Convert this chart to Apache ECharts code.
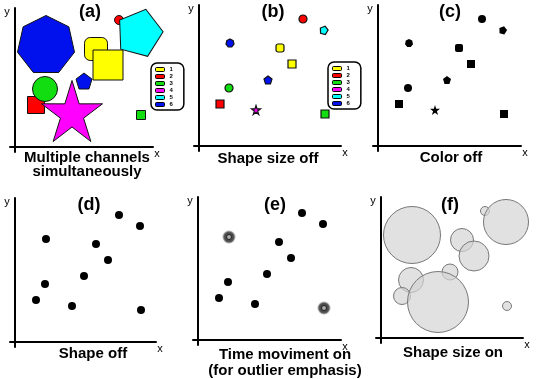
<!DOCTYPE html>
<html>
<head>
<meta charset="utf-8">
<script src="https://cdn.jsdelivr.net/npm/echarts@6/dist/echarts.min.js"></script>
<style>
html, body { margin: 0; padding: 0; background: #fff; }
#chart { width: 539px; height: 379px; }
</style>
</head>
<body>
<div id="chart"></div>
<script>
// 十个点，六个面板共用同一组坐标
const pointX = [31, 81, 93, 104, 125, 69, 30, 21, 57, 126];
const pointY = [103, 98, 82, 127, 116, 66, 58, 42, 36, 32];
// 大小通道 (a)(f)
const magnitude = [57, 23, 30, 9, 45, 16, 25, 17, 61, 9];
// 颜色分组 1-6
const group = ['6', '1', '1', '2', '5', '6', '3', '2', '4', '3'];
// 形状
const kind = ['heptagon', 'roundRect', 'rect', 'circle', 'pentagon', 'pentagon', 'circle', 'rect', 'star', 'rect'];
// (e) 里面会动的离群点
const outlier = [1, 0, 0, 0, 0, 0, 0, 0, 0, 1];
const groupNames = ['1', '2', '3', '4', '5', '6'];
const panelTags = ['(a)', '(b)', '(c)', '(d)', '(e)', '(f)'];
const captions = ['Multiple channels\nsimultaneously', 'Shape size off', 'Color off', 'Shape off', 'Time moviment on\n(for outlier emphasis)', 'Shape size on'];

const groupColor = { '1': '#ffff00', '2': '#ff0000', '3': '#11dd11', '4': '#ff00ff', '5': '#00ffff', '6': '#0011ee' };

// 每个面板的原点、右端、顶端（像素）
const panels = [
    { ox: 15, oy: 147, right: 153, top: 8, tag: [90, 12], cap: [87, 151], lh: 14 },
    { ox: 199, oy: 146, right: 341, top: 5, tag: [273, 12], cap: [268, 152], lh: 14 },
    { ox: 378, oy: 146, right: 521, top: 5, tag: [450, 12], cap: [451, 151], lh: 14 },
    { ox: 15, oy: 342, right: 156, top: 198, tag: [89, 205], cap: [93, 347], lh: 14 },
    { ox: 198, oy: 340, right: 341, top: 197, tag: [275, 205], cap: [285, 347], lh: 16 },
    { ox: 381, oy: 338, right: 523, top: 197, tag: [450, 205], cap: [453, 346], lh: 14 }
];

function polyPath(n, inner) {
    const count = inner ? n * 2 : n;
    const pts = [];
    for (let i = 0; i < count; i++) {
        const a = -Math.PI / 2 + i * Math.PI * 2 / count;
        const r = inner && i % 2 ? inner : 1;
        pts.push((r * Math.cos(a)).toFixed(3) + ' ' + (r * Math.sin(a)).toFixed(3));
    }
    return 'path://M' + pts.join(' L') + ' Z';
}
const shapes = {
    heptagon: polyPath(7),
    pentagon: polyPath(5),
    star: polyPath(5, 0.38),
    circle: 'circle',
    rect: 'rect',
    roundRect: 'roundRect'
};
function tilt(i) {
    return kind[i] === 'pentagon' && group[i] === '5' ? -15 : 0;
}

const grids = [], xAxes = [], yAxes = [], graphics = [];
panels.forEach((p, k) => {
    grids.push({ left: p.ox - 5, top: p.top, width: p.right - p.ox + 5, height: p.oy - p.top + 5 });
    const axisCommon = {
        type: 'value',
        gridIndex: k,
        min: -5,
        axisLine: { onZero: true, lineStyle: { color: '#000', width: 2 } },
        axisTick: { show: false },
        axisLabel: { show: false },
        splitLine: { show: false }
    };
    xAxes.push(Object.assign({}, axisCommon, { max: p.right - p.ox }));
    yAxes.push(Object.assign({}, axisCommon, { max: p.oy - p.top }));

    graphics.push({
        type: 'text', x: p.tag[0], y: p.tag[1],
        style: { text: panelTags[k], font: 'bold 18px "Liberation Sans", Arial', fill: '#000', align: 'center', verticalAlign: 'middle', textAlign: 'center', textVerticalAlign: 'middle' }
    });
    graphics.push({
        type: 'text', x: p.cap[0], y: p.cap[1],
        style: { text: captions[k], font: 'bold 15px "Liberation Sans", Arial', lineHeight: p.lh, fill: '#000', align: 'center', verticalAlign: 'top', textAlign: 'center', textVerticalAlign: 'top' }
    });
    graphics.push({
        type: 'text', x: p.ox - 8, y: p.top + 4,
        style: { text: 'y', font: '11px "Liberation Sans", Arial', fill: '#000', align: 'center', verticalAlign: 'middle', textAlign: 'center', textVerticalAlign: 'middle' }
    });
    graphics.push({
        type: 'text', x: p.right + 4, y: p.oy + 7,
        style: { text: 'x', font: '11px "Liberation Sans", Arial', fill: '#000', align: 'center', verticalAlign: 'middle', textAlign: 'center', textVerticalAlign: 'middle' }
    });
});

const idx = pointX.map((v, i) => i);
function pt(i, extra) {
    return Object.assign({ value: [pointX[i], pointY[i]] }, extra);
}

const series = [];
// (a) 和 (b)：按颜色分组
[0, 1].forEach(k => {
    groupNames.forEach(g => {
        series.push({
            type: 'scatter',
            name: g,
            xAxisIndex: k,
            yAxisIndex: k,
            itemStyle: { color: groupColor[g], borderColor: '#111', borderWidth: k === 0 ? 1 : 1.2, opacity: 1 },
            data: idx.filter(i => group[i] === g).map(i => pt(i, {
                symbol: shapes[kind[i]],
                symbolSize: k === 0 ? magnitude[i] : (kind[i] === 'star' ? 9 : 8),
                symbolRotate: tilt(i)
            }))
        });
    });
});
// (c) 颜色关掉
series.push({
    type: 'scatter', xAxisIndex: 2, yAxisIndex: 2,
    itemStyle: { color: '#000', opacity: 1 },
    data: idx.map(i => pt(i, { symbol: shapes[kind[i]], symbolSize: kind[i] === 'star' ? 10 : 8, symbolRotate: tilt(i) }))
});
// (d) 形状关掉
series.push({
    type: 'scatter', xAxisIndex: 3, yAxisIndex: 3, symbol: 'circle', symbolSize: 8,
    itemStyle: { color: '#000', opacity: 1 },
    data: idx.map(i => pt(i))
});
// (e) 离群点在动
series.push({
    type: 'scatter', xAxisIndex: 4, yAxisIndex: 4, symbol: 'circle', symbolSize: 8,
    itemStyle: { color: '#000', opacity: 1 },
    data: idx.filter(i => !outlier[i]).map(i => pt(i))
});
series.push({
    type: 'scatter', xAxisIndex: 4, yAxisIndex: 4, symbol: 'circle', symbolSize: 11,
    itemStyle: { color: '#4a4a4a', borderColor: 'rgba(110,110,110,0.55)', borderWidth: 2, opacity: 1 },
    data: idx.filter(i => outlier[i]).map(i => pt(i))
});
series.push({
    type: 'scatter', xAxisIndex: 4, yAxisIndex: 4, symbol: 'circle', symbolSize: 5,
    itemStyle: { color: '#aaa', borderColor: '#222', borderWidth: 1, opacity: 1 },
    data: idx.filter(i => outlier[i]).map(i => pt(i))
});
// (f) 只保留大小
series.push({
    type: 'scatter', xAxisIndex: 5, yAxisIndex: 5, symbol: 'circle',
    itemStyle: { color: 'rgba(212,212,212,0.7)', borderColor: '#777', borderWidth: 1, opacity: 1 },
    data: idx.map(i => pt(i, { symbolSize: magnitude[i] }))
});

const legendCommon = {
    data: groupNames,
    orient: 'vertical',
    selectedMode: false,
    icon: 'roundRect',
    itemWidth: 9,
    itemHeight: 4,
    itemGap: 0,
    itemTextGap: 6,
    padding: [3, 11, 2, 4],
    borderColor: '#000',
    borderWidth: 1.5,
    borderRadius: 6,
    itemStyle: { borderColor: '#000', borderWidth: 1 },
    textStyle: { fontSize: 6, fontWeight: 'bold', color: '#000', lineHeight: 7, fontFamily: '"Liberation Sans", Arial' }
};

const myChart = echarts.init(document.getElementById('chart'));
myChart.setOption({
    animation: false,
    grid: grids,
    xAxis: xAxes,
    yAxis: yAxes,
    legend: [
        Object.assign({}, legendCommon, { left: 151, top: 63 }),
        Object.assign({}, legendCommon, { left: 328, top: 62 })
    ],
    graphic: graphics,
    series: series
});
</script>
</body>
</html>
